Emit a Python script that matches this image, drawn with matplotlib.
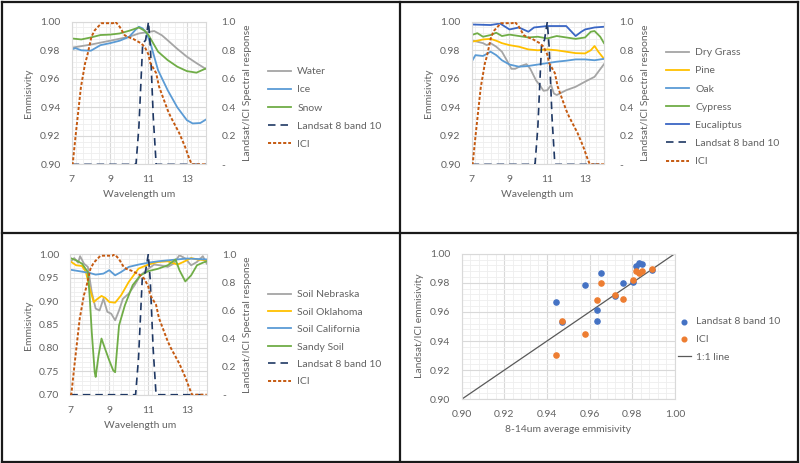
import matplotlib
matplotlib.use("Agg")
from matplotlib import pyplot as plt
from matplotlib.lines import Line2D
from matplotlib.ticker import MultipleLocator, FuncFormatter

plt.rcParams["font.family"] = ["Lato", "DejaVu Sans"]
plt.rcParams["font.size"] = 7.5
TXT = "#636363"

# ---- spectral response curves (shared by the three spectrum panels) ----
band_wl = [7.0, 10.3, 10.35, 10.5, 10.7, 10.85, 11.0, 11.1, 11.25, 11.4, 14.0]
band_resp = [0, 0, 0, 0.26, 0.85, 0.87, 1.0, 0.82, 0.33, 0, 0]

ici_wl = [7.0, 7.05, 7.22, 7.48, 7.7, 7.8, 8.03, 8.2, 8.55, 9.15, 9.28, 9.5, 9.75,
          9.9, 10.2, 10.6, 10.8, 11.0, 11.1, 11.4, 11.55, 12.0, 12.15, 12.6, 12.9,
          13.1, 13.25, 14.0]
ici_resp = [0, 0, 0.22, 0.54, 0.71, 0.755, 0.895, 0.94, 0.99, 0.99, 1.0, 0.965, 0.907,
            0.895, 0.88, 0.85, 0.825, 0.77, 0.71, 0.64, 0.545, 0.38, 0.335, 0.22, 0.125,
            0.05, 0, 0]

# ---- panel 1: water / ice / snow ----
water_wl = [7.0, 8.0, 9.0, 10.0, 10.5, 11.3, 11.7, 12.0, 12.5, 13.0, 13.5, 14.0]
water_em = [0.9818, 0.984, 0.9867, 0.9895, 0.9918, 0.9935, 0.9905, 0.987, 0.981, 0.9755, 0.971, 0.9668]

ice_wl = [7.0, 7.2, 7.5, 8.0, 8.5, 9.0, 9.5, 10.0, 10.3, 10.5, 10.7, 10.9, 11.1, 11.5,
          12.0, 12.5, 13.0, 13.3, 13.7, 14.0]
ice_em = [0.9806, 0.9815, 0.980, 0.9797, 0.9836, 0.985, 0.9867, 0.9895, 0.994, 0.9965,
          0.9953, 0.992, 0.985, 0.966, 0.952, 0.940, 0.931, 0.9287, 0.929, 0.9315]

snow_wl = [7.0, 7.5, 8.0, 8.5, 9.0, 9.5, 10.0, 10.5, 10.8, 11.0, 11.5, 12.0, 12.5, 13.0, 13.5, 14.0]
snow_em = [0.9883, 0.9876, 0.989, 0.9907, 0.991, 0.9918, 0.9937, 0.996, 0.9937, 0.9907,
           0.979, 0.9731, 0.9685, 0.9654, 0.9643, 0.9673]

# ---- panel 2: vegetation ----
grass_wl = [7.0, 7.3, 7.6, 7.8, 8.0, 8.3, 8.6, 8.9, 9.1, 9.3, 9.6, 9.9, 10.1, 10.4, 10.6,
            10.8, 11.0, 11.2, 11.35, 11.5, 12.0, 12.5, 13.0, 13.5, 14.0]
grass_em = [0.987, 0.986, 0.985, 0.9836, 0.985, 0.9825, 0.979, 0.972, 0.967, 0.967, 0.969,
            0.9703, 0.967, 0.959, 0.9556, 0.9516, 0.952, 0.9556, 0.9497, 0.9486, 0.952,
            0.9544, 0.958, 0.9614, 0.9703]

pine_wl = [7.0, 7.3, 7.6, 8.0, 8.3, 8.6, 9.0, 9.5, 10.0, 10.5, 11.0, 11.5, 12.0, 12.5,
           13.0, 13.3, 13.5, 13.7, 14.0]
pine_em = [0.986, 0.9867, 0.9876, 0.988, 0.9867, 0.985, 0.9836, 0.9825, 0.9806, 0.980,
           0.9806, 0.980, 0.979, 0.978, 0.9778, 0.980, 0.983, 0.979, 0.974]

oak_wl = [7.0, 7.2, 7.6, 8.0, 8.3, 8.6, 9.0, 9.5, 10.0, 10.5, 11.0, 11.5, 12.0, 12.5, 13.0, 13.5, 14.0]
oak_em = [0.972, 0.9766, 0.976, 0.979, 0.9766, 0.973, 0.970, 0.9685, 0.969, 0.970, 0.971,
          0.972, 0.9727, 0.9736, 0.9736, 0.973, 0.974]

cypress_wl = [7.0, 7.3, 7.6, 8.0, 8.3, 8.6, 9.0, 9.5, 10.0, 10.5, 11.0, 11.5, 12.0, 12.5,
              13.0, 13.3, 13.5, 13.8, 14.0]
cypress_em = [0.9907, 0.992, 0.9895, 0.9907, 0.9923, 0.990, 0.991, 0.990, 0.989, 0.9895,
              0.9883, 0.990, 0.989, 0.988, 0.989, 0.993, 0.9935, 0.9895, 0.985]

euca_wl = [7.0, 8.0, 8.5, 9.0, 9.5, 10.0, 10.3, 11.0, 11.5, 12.0, 12.5, 12.8, 13.0, 13.5, 14.0]
euca_em = [0.9981, 0.9977, 0.9988, 0.9946, 0.996, 0.993, 0.996, 0.997, 0.997, 0.997,
           0.990, 0.993, 0.9946, 0.996, 0.9965]

# ---- panel 3: soils ----
nebr_wl = [7.0, 7.2, 7.4, 7.5, 7.7, 7.9, 8.1, 8.3, 8.5, 8.7, 8.9, 9.1, 9.3, 9.5, 9.7, 10.0,
           10.3, 10.6, 11.0, 11.3, 11.6, 12.0, 12.3, 12.6, 12.9, 13.2, 13.5, 13.8, 14.0]
nebr_em = [0.9836, 0.992, 0.982, 0.996, 0.980, 0.973, 0.919, 0.884, 0.880, 0.905, 0.877,
           0.873, 0.859, 0.880, 0.905, 0.916, 0.934, 0.955, 0.969, 0.978, 0.9765, 0.973,
           0.980, 0.998, 0.991, 0.9765, 0.9836, 0.996, 0.980]

okla_wl = [7.0, 7.3, 7.6, 7.8, 8.0, 8.2, 8.4, 8.6, 8.8, 9.0, 9.3, 9.6, 10.0, 10.5, 11.0,
           11.5, 12.0, 12.5, 12.8, 13.2, 13.5, 14.0]
okla_em = [0.985, 0.9765, 0.975, 0.962, 0.9266, 0.898, 0.905, 0.911, 0.9066, 0.898, 0.8966,
           0.912, 0.941, 0.9694, 0.978, 0.9836, 0.985, 0.978, 0.9836, 0.992, 0.989, 0.987]

cali_wl = [7.0, 7.5, 8.0, 8.3, 8.7, 9.0, 9.3, 9.6, 10.0, 10.5, 11.0, 11.5, 12.0, 12.5, 13.0, 14.0]
cali_em = [0.967, 0.9636, 0.960, 0.9565, 0.9587, 0.966, 0.955, 0.962, 0.973, 0.978, 0.982,
           0.985, 0.987, 0.989, 0.991, 0.989]

sandy_wl = [7.0, 7.3, 7.6, 7.9, 8.0, 8.1, 8.25, 8.3, 8.45, 8.6, 8.75, 9.0, 9.2, 9.3, 9.5,
            9.8, 10.2, 10.6, 11.0, 11.5, 12.0, 12.4, 12.6, 12.9, 13.2, 13.5, 13.8, 14.0]
sandy_em = [0.992, 0.987, 0.980, 0.962, 0.905, 0.834, 0.748, 0.738, 0.784, 0.820, 0.802,
            0.773, 0.752, 0.748, 0.848, 0.891, 0.934, 0.955, 0.964, 0.969, 0.9765, 0.989,
            0.966, 0.942, 0.955, 0.9765, 0.982, 0.985]

# ---- panel 4: band-weighted vs 8-14um average emissivity ----
avg_landsat = [0.9442, 0.9473, 0.958, 0.9636, 0.9636, 0.9655, 0.9717, 0.9756, 0.9803,
               0.9816, 0.9833, 0.9847, 0.9891]
emis_landsat = [0.9666, 0.9529, 0.9783, 0.9611, 0.9535, 0.9865, 0.9707, 0.9801, 0.9805,
                0.9913, 0.9936, 0.9931, 0.9886]
avg_ici = [0.9442, 0.9473, 0.958, 0.9636, 0.9655, 0.9717, 0.9756, 0.9803, 0.9816, 0.9833,
           0.9847, 0.9891]
emis_ici = [0.9304, 0.954, 0.9449, 0.968, 0.980, 0.9716, 0.9689, 0.9817, 0.9883, 0.987,
            0.9881, 0.9897]
one_to_one = [0.90, 1.00]


def style_axes(ax, xmajor, xminor, ymajor, yminor):
    ax.xaxis.set_major_locator(MultipleLocator(xmajor))
    ax.xaxis.set_minor_locator(MultipleLocator(xminor))
    ax.yaxis.set_major_locator(MultipleLocator(ymajor))
    ax.yaxis.set_minor_locator(MultipleLocator(yminor))
    ax.grid(which="major", color="#d9d9d9", lw=0.8)
    ax.grid(which="minor", color="#eeeeee", lw=0.6)
    ax.set_axisbelow(True)
    for s in ax.spines.values():
        s.set_color("#d9d9d9")
        s.set_linewidth(0.8)
    ax.tick_params(which="both", length=0, colors=TXT, labelsize=7.5)
    ax.tick_params(axis="y", pad=8)
    ax.tick_params(axis="x", pad=8)


def spectrum_panel(rect, series, ylim, ymajor, yminor, legend_xy, spacing):
    ax = fig.add_axes(rect)
    handles = []
    for wl, em, color, name in series:
        h, = ax.plot(wl, em, color=color, lw=1.3, label=name)
        handles.append(h)
    ax.set_xlim(7, 14)
    ax.set_ylim(*ylim)
    style_axes(ax, 2, 0.4, ymajor, yminor)
    ax.set_xticks([7, 9, 11, 13])
    ax.yaxis.set_major_formatter(FuncFormatter(lambda v, p: f"{v:.2f}"))

    ax2 = ax.twinx()
    h1, = ax2.plot(band_wl, band_resp, color="#1f3864", lw=1.2, ls=(0, (4.5, 3)),
                   label="Landsat 8 band 10")
    h2, = ax2.plot(ici_wl, ici_resp, color="#c55a11", lw=1.4, ls=(0, (1.6, 1.0)), label="ICI")
    handles += [h1, h2]
    ax2.set_ylim(0, 1.0)
    ax2.set_yticks([0, 0.2, 0.4, 0.6, 0.8, 1.0])
    ax2.yaxis.set_major_formatter(FuncFormatter(lambda v, p: "-" if v == 0 else f"{v:.1f}"))
    ax2.tick_params(length=0, colors=TXT, labelsize=7.5, pad=11)
    for s in ax2.spines.values():
        s.set_visible(False)

    ax2.legend(handles, [h.get_label() for h in handles], loc="upper left",
               bbox_to_anchor=legend_xy, bbox_transform=fig.transFigure, frameon=False,
               handlelength=2.2, handletextpad=0.6, labelspacing=spacing,
               labelcolor=TXT, fontsize=7.5, borderaxespad=0, borderpad=0)
    return ax


fig = plt.figure(figsize=(8, 4.63), dpi=100)

# panel 1
spectrum_panel([0.0896, 0.645, 0.168, 0.308],
               [(water_wl, water_em, "#a5a5a5", "Water"),
                (ice_wl, ice_em, "#5b9bd5", "Ice"),
                (snow_wl, snow_em, "#70ad47", "Snow")],
               (0.90, 1.00), 0.02, 0.004, (0.335, 1 - 67 / 463), 0.85)
fig.text(28 / 800, 1 - 93 / 463, "Emmisivity", rotation=90, ha="center", va="center", color=TXT)
fig.text(247 / 800, 1 - 93 / 463, "Landsat/ICI Spectral response", rotation=90,
         ha="center", va="center", color=TXT)
fig.text(139 / 800, 1 - 195 / 463, "Wavelength um", ha="center", va="center", color=TXT)

# panel 2
spectrum_panel([0.5896, 0.645, 0.1654, 0.308],
               [(grass_wl, grass_em, "#a5a5a5", "Dry Grass"),
                (pine_wl, pine_em, "#ffc000", "Pine"),
                (oak_wl, oak_em, "#5b9bd5", "Oak"),
                (cypress_wl, cypress_em, "#70ad47", "Cypress"),
                (euca_wl, euca_em, "#3a66c4", "Eucaliptus")],
               (0.90, 1.00), 0.02, 0.004, (666 / 800, 1 - 48 / 463), 0.85)
fig.text(428 / 800, 1 - 93 / 463, "Emmisivity", rotation=90, ha="center", va="center", color=TXT)
fig.text(646 / 800, 1 - 93 / 463, "Landsat/ICI Spectral response", rotation=90,
         ha="center", va="center", color=TXT)
fig.text(537 / 800, 1 - 195 / 463, "Wavelength um", ha="center", va="center", color=TXT)

# panel 3
spectrum_panel([0.0879, 0.1475, 0.1705, 0.3033],
               [(nebr_wl, nebr_em, "#a5a5a5", "Soil Nebraska"),
                (okla_wl, okla_em, "#ffc000", "Soil Oklahoma"),
                (cali_wl, cali_em, "#5b9bd5", "Soil California"),
                (sandy_wl, sandy_em, "#70ad47", "Sandy Soil")],
               (0.70, 1.00), 0.05, 0.01, (0.335, 1 - 290 / 463), 0.78)
fig.text(28 / 800, 1 - 325 / 463, "Emmisivity", rotation=90, ha="center", va="center", color=TXT)
fig.text(248 / 800, 1 - 325 / 463, "Landsat/ICI Spectral response", rotation=90,
         ha="center", va="center", color=TXT)
fig.text(140 / 800, 1 - 425 / 463, "Wavelength um", ha="center", va="center", color=TXT)

# panel 4
ax4 = fig.add_axes([0.577, 0.1376, 0.2666, 0.3145])
ax4.scatter(avg_landsat, emis_landsat, s=14, color="#4472c4", zorder=3, label="Landsat 8 band 10")
ax4.scatter(avg_ici, emis_ici, s=14, color="#ed7d31", zorder=3, label="ICI")
ax4.plot(one_to_one, one_to_one, color="#595959", lw=0.9, label="1:1 line", zorder=2)
ax4.set_xlim(0.90, 1.00)
ax4.set_ylim(0.90, 1.00)
style_axes(ax4, 0.02, 0.004, 0.02, 0.004)
ax4.xaxis.set_major_formatter(FuncFormatter(lambda v, p: f"{v:.2f}"))
ax4.yaxis.set_major_formatter(FuncFormatter(lambda v, p: f"{v:.2f}"))
ax4.legend(loc="upper left", bbox_to_anchor=(678 / 800, 1 - 317 / 463),
           bbox_transform=fig.transFigure, frameon=False, handlelength=1.2,
           handletextpad=0.5, labelspacing=0.8, labelcolor=TXT, fontsize=7.5,
           borderaxespad=0, borderpad=0, markerscale=0.9)
fig.text(420 / 800, 1 - 326 / 463, "Landsat/ICI emmisivity", rotation=90,
         ha="center", va="center", color=TXT)
fig.text(568 / 800, 1 - 429 / 463, "8-14um average emmisivity", ha="center", va="center", color=TXT)

# frame and dividers
W, H = 800, 463
for (x0, y0, x1, y1) in [(1.5, 1.5, 798, 1.5), (1.5, 1.5, 1.5, 461.5), (798, 1.5, 798, 461.5),
                         (1.5, 461.5, 798, 461.5), (400, 1.5, 400, 461.5), (1.5, 233, 798, 233)]:
    fig.add_artist(Line2D([x0 / W, x1 / W], [1 - y0 / H, 1 - y1 / H], color="#1a1a1a", lw=1.6))

fig.savefig("out.png", dpi=100)
